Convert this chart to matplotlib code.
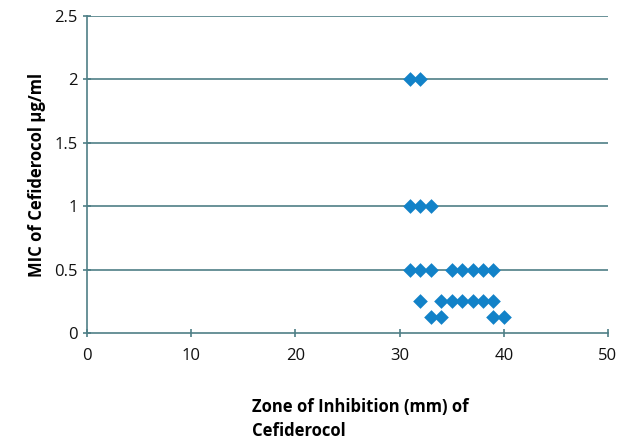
import matplotlib
matplotlib.use("Agg")
import matplotlib.pyplot as plt

# zone of inhibition (mm) vs MIC (ug/ml)
zone_mm = [31, 32,
           31, 32, 33,
           31, 32, 33, 35, 36, 37, 38, 39,
           32, 34, 35, 36, 37, 38, 39,
           33, 34, 39, 40]
mic = [2, 2,
       1, 1, 1,
       0.5, 0.5, 0.5, 0.5, 0.5, 0.5, 0.5, 0.5,
       0.25, 0.25, 0.25, 0.25, 0.25, 0.25, 0.25,
       0.125, 0.125, 0.125, 0.125]
x_ticks = [0, 10, 20, 30, 40, 50]
y_ticks = [0, 0.5, 1, 1.5, 2, 2.5]
y_tick_labels = ['0', '0.5', '1', '1.5', '2', '2.5']

plt.rcParams['font.family'] = ['Open Sans', 'DejaVu Sans']
axis_col = '#4f7f86'

fig = plt.figure(figsize=(6.3, 4.45), dpi=100)
ax = fig.add_axes([87/630, 1 - 333/445, (608-87)/630, (333-16)/445])

ax.scatter(zone_mm, mic, marker='D', s=56, color='#1282c8', zorder=3, linewidths=0)

ax.set_xlim(0, 50)
ax.set_ylim(0, 2.5)
ax.set_xticks(x_ticks)
ax.set_yticks(y_ticks)
ax.set_yticklabels(y_tick_labels)
for y in y_ticks[1:]:
    ax.axhline(y, color=axis_col, lw=1.2, zorder=1)

for s in ['top', 'right']:
    ax.spines[s].set_visible(False)
for s in ['left', 'bottom']:
    ax.spines[s].set_color(axis_col)
    ax.spines[s].set_linewidth(1.2)
ax.tick_params(axis='both', direction='inout', length=6, color=axis_col,
               labelsize=12, width=1.2, labelcolor='#111111')
ax.tick_params(axis='x', pad=8)

ax.set_ylabel('MIC of Cefiderocol µg/ml', fontsize=12, fontweight='bold', labelpad=6)
fig.text(252/630, 1 - 440/445, 'Zone of Inhibition (mm) of\nCefiderocol', fontsize=12,
         fontweight='bold', ha='left', va='bottom', linespacing=1.4)

fig.savefig('out.png', dpi=100)
